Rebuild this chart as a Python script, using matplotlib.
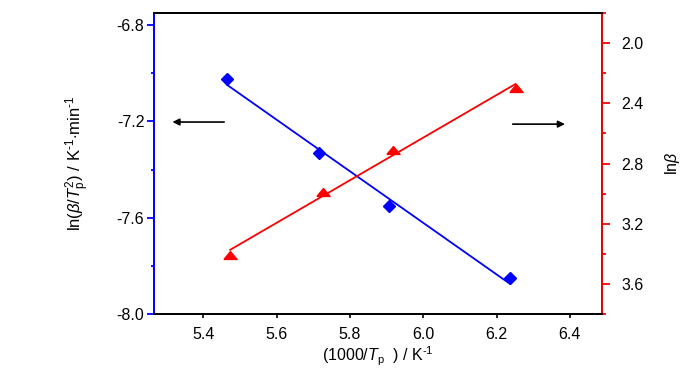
import numpy as np
import matplotlib
matplotlib.use('Agg')
import matplotlib.pyplot as plt

plt.rcParams['font.family'] = ['Liberation Sans', 'DejaVu Sans']
plt.rcParams['mathtext.fontset'] = 'custom'
plt.rcParams['mathtext.rm'] = 'Liberation Sans'
plt.rcParams['mathtext.it'] = 'Liberation Sans:italic'

# data
inv_tp_left = [5.465, 5.716, 5.906, 6.236]
ln_beta_tp2 = [-7.025, -7.333, -7.552, -7.851]
inv_tp_right = [5.473, 5.725, 5.918, 6.252]
ln_beta = [3.405, 2.991, 2.709, 2.299]

left_ticks = [-8.0, -7.6, -7.2, -6.8]
right_ticks = [2.0, 2.4, 2.8, 3.2, 3.6]
x_ticks = [5.4, 5.6, 5.8, 6.0, 6.2, 6.4]

fig = plt.figure(figsize=(7, 3.73), dpi=100)
ax = fig.add_axes([0.22, 0.158, 0.6396, 0.807])
ax2 = ax.twinx()

# linear fits
x1 = np.array(inv_tp_left)
y1 = np.array(ln_beta_tp2)
k1, b1 = np.polyfit(x1, y1, 1)
xx1 = np.array([x1.min(), x1.max()])
ax.plot(xx1, k1 * xx1 + b1, color='blue', lw=1.3)
ax.plot(x1, y1, 'D', color='blue', ms=6.5, mec='blue')

x2 = np.array(inv_tp_right)
y2 = np.array(ln_beta)
k2, b2 = np.polyfit(x2, y2, 1)
xx2 = np.array([x2.min(), x2.max()])
ax2.plot(xx2, k2 * xx2 + b2, color='red', lw=1.3)
tri = [(-1, -0.6), (1, -0.6), (0, 0.6), (-1, -0.6)]
ax2.plot(x2, y2, marker=tri, ls='none', color='red', ms=9.5)

ax.set_xlim(5.265, 6.487)
ax.set_ylim(-8.0, -6.75)
ax2.set_ylim(3.8, 1.8)

ax.set_xticks(x_ticks)
ax.set_xticklabels([f'{v:.1f}' for v in x_ticks])
ax.set_yticks(left_ticks)
ax.set_yticklabels([f'{v:.1f}' for v in left_ticks])
ax.set_yticks([-7.8, -7.4, -7.0], minor=True)
ax2.set_yticks(right_ticks)
ax2.set_yticklabels([f'{v:.1f}' for v in right_ticks])
ax2.set_yticks([1.8, 2.2, 2.6, 3.0, 3.4, 3.8], minor=True)

for a in (ax, ax2):
    for s in a.spines.values():
        s.set_linewidth(1.3)
ax2.spines['left'].set_color('blue')
ax2.spines['right'].set_color('red')
ax.spines['left'].set_color('blue')

ax.tick_params(axis='x', direction='out', length=3, width=1.2, labelsize=11.5, pad=6)
ax.tick_params(axis='y', which='major', direction='out', length=5, width=1.3,
               color='blue', labelsize=11.5, pad=2)
ax.tick_params(axis='y', which='minor', direction='out', length=2.5, width=1.3, color='blue')
ax2.tick_params(axis='y', which='major', direction='out', length=6, width=1.3,
                color='red', labelsize=11.5, pad=8)
ax2.tick_params(axis='y', which='minor', direction='out', length=3, width=1.3, color='red')

ax.set_xlabel(r'(1000/$T_\mathrm{p}$  ) / K$^{\text{-}1}$', fontsize=11.5, labelpad=2)
ax.set_ylabel(r'ln($\beta$/$T_\mathrm{p}^2$) / K$^{\text{-}1}$$\cdot$min$^{\text{-}1}$',
              fontsize=12, labelpad=18)
ax2.set_ylabel(r'ln$\beta$', fontsize=11.5, labelpad=14)

# direction arrows
ax.annotate('', xy=(0.035, 0.638), xytext=(0.163, 0.638), xycoords='axes fraction',
            arrowprops=dict(arrowstyle='-|>', color='black', lw=1.2, mutation_scale=10))
ax.annotate('', xy=(0.924, 0.631), xytext=(0.795, 0.631), xycoords='axes fraction',
            arrowprops=dict(arrowstyle='-|>', color='black', lw=1.2, mutation_scale=10))

fig.savefig('out.png', dpi=100)
